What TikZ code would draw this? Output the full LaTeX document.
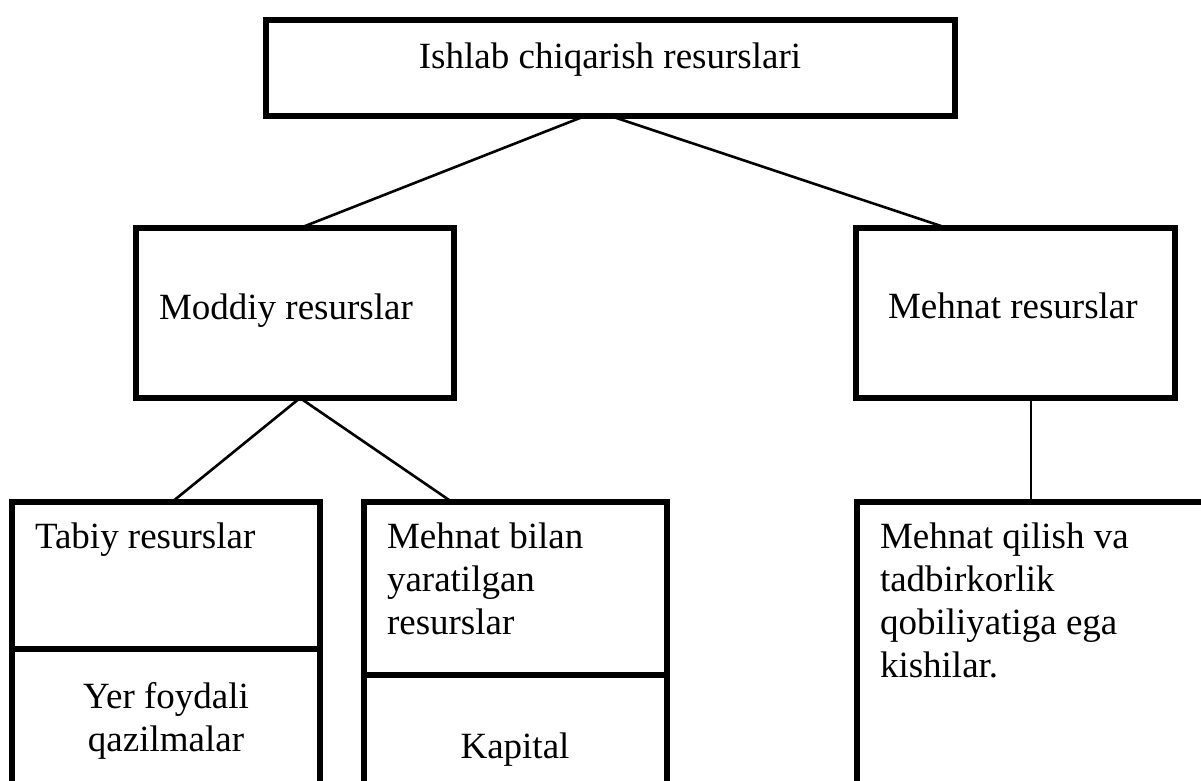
\documentclass[tikz,border=0pt]{standalone}
\usepackage{fontspec}
\setmainfont{Liberation Serif}
\begin{document}
\begin{tikzpicture}[x=1pt,y=-1pt,
  box/.style={draw, line width=6pt, inner sep=0pt, outer sep=0pt, rectangle},
  conn/.style={line width=2.6pt},
  lbl/.style={inner sep=0pt, outer sep=0pt, font=\fontsize{37}{43}\selectfont}]
\useasboundingbox (0,0) rectangle (1201,780);
\clip (0,0) rectangle (1201,780);
\fill[white] (0,0) rectangle (1201,780);
% boxes
\node[box, minimum width=689pt, minimum height=96pt] (top) at (610.5,68) {};
\node[box, minimum width=318pt, minimum height=170pt] (moddiy) at (295,313) {};
\node[box, minimum width=319pt, minimum height=170pt] (mehnat) at (1015.5,313) {};
\node[box, minimum width=308pt, minimum height=147pt] (tabiyA) at (166,575.5) {};
\node[box, minimum width=308pt, minimum height=151pt] (tabiyB) at (166,724.5) {};
\node[box, minimum width=303pt, minimum height=173pt] (midA) at (515.5,588.5) {};
\node[box, minimum width=303pt, minimum height=125pt] (midB) at (515.5,737.5) {};
\node[box, minimum width=363pt, minimum height=298pt] (rbox) at (1038.5,651) {};
% texts
\node[lbl, anchor=base] (ttop) at (610,68) {Ishlab chiqarish resurslari};
\node[lbl, anchor=base west] (tmoddiy) at (159,319) {Moddiy resurslar};
\node[lbl, anchor=base west] (tmehnat) at (888,318) {Mehnat resurslar};
\node[lbl, anchor=base west] (ttabiy) at (35,548) {Tabiy resurslar};
\node[lbl, anchor=north, align=center] (tyer) at (166,682) {Yer foydali\\qazilmalar};
\node[lbl, anchor=north west, align=left] (tmid) at (387,523) {Mehnat bilan\\yaratilgan\\resurslar};
\node[lbl, anchor=base] (tkap) at (515,758) {Kapital};
\node[lbl, anchor=north west, align=left] (tright) at (880,523) {Mehnat qilish va\\tadbirkorlik\\qobiliyatiga ega\\kishilar.};
% connectors
\draw[conn] ([xshift=-25.5pt]top.south) -- ([xshift=5pt]moddiy.north);
\draw[conn] (top.south) -- ([xshift=-68.5pt]mehnat.north);
\draw[conn] ([xshift=5pt]moddiy.south) -- ([xshift=6pt]tabiyA.north);
\draw[conn] ([xshift=5pt]moddiy.south) -- ([xshift=-63.5pt]midA.north);
\draw[conn] ([xshift=15.5pt]mehnat.south) -- ([xshift=15.5pt]mehnat.south |- rbox.north);
\end{tikzpicture}
\end{document}
